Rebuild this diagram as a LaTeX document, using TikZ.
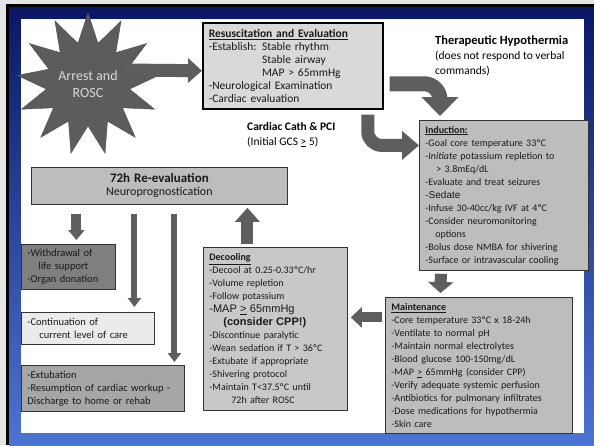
\documentclass[tikz,border=0pt]{standalone}
\usepackage{fontspec}
\setmainfont{Carlito}
\newfontfamily\arialfont{Liberation Sans}
\usetikzlibrary{positioning, arrows.meta, shapes.geometric}

\definecolor{navyblue}{HTML}{0B1765}
\definecolor{slideblue}{HTML}{4C74D2}
\definecolor{arrowgray}{HTML}{5E5E5E}
\definecolor{stargray}{HTML}{5C5C5C}
\definecolor{resgray}{HTML}{D9D9D9}
\definecolor{midgray}{HTML}{BDBDBD}
\definecolor{decoolgray}{HTML}{C8C8C8}
\definecolor{darkboxgray}{HTML}{7F7F7F}
\definecolor{lightboxgray}{HTML}{EBEBEB}
\definecolor{extgray}{HTML}{A6A6A6}

\begin{document}
\begin{tikzpicture}[x=1pt, y=-1pt,
    box/.style={draw=black!80, line width=0.8pt, align=left, anchor=north west,
      inner xsep=6pt, inner ysep=0pt, font=\fontsize{10}{13}\selectfont, text=black!90},
    boxsize/.style n args={3}{minimum width=#1, minimum height=#2, text width=#3},
    note/.style={align=left, anchor=north west, inner sep=0pt, font=\fontsize{11.5}{15}\selectfont},
    fatarrow/.style n args={3}{draw=arrowgray, line width=#1, -{Triangle[width=#2, length=#3]}}]
  % Slide background
  \useasboundingbox (0,0) rectangle (594,445);
  \fill[black!10] (0,0) rectangle (594,445);
  \fill[black] (6,4) rectangle (594,445);
  \shade[top color=navyblue, bottom color=slideblue] (9,7) rectangle (594,445);
  \fill[white] (21,19) rectangle (584,433);

  % Nodes
  \node (Arrest) [star, star points=13, star point ratio=1.7, draw=black!70, fill=stargray,
    minimum size=128pt, inner sep=0pt, text=black!15, align=center,
    font=\fontsize{14}{17}\selectfont] at (88,84) {Arrest and\\ROSC};
  \node (Resus) [box, boxsize={180pt}{86pt}{168pt}, fill=resgray, draw=black, line width=1.5pt,
    font=\fontsize{11.5}{13}\selectfont] at (202,22)
    {\textbf{\underline{Resuscitation and Evaluation}}\\
     -Establish: Stable rhythm\\
     \phantom{-Establish: }Stable airway\\
     \phantom{-Establish: }MAP > 65mmHg\\
     -Neurological Examination\\
     -Cardiac evaluation};
  \node (Hypo) [note] at (435,36)
    {{\fontsize{12.5}{15}\selectfont\bfseries Therapeutic Hypothermia}\\(does not respond to verbal\\commands)};
  \node (Cath) [note] at (247,122)
    {\textbf{Cardiac Cath \& PCI}\\(Initial GCS \underline{>} 5)};
  \node (Induction) [box, boxsize={169pt}{150pt}{157pt}, fill=midgray] at (419,120)
    {\textbf{\underline{Induction:}}\\
     -Goal core temperature 33ºC\\
     -\textit{Initiate} potassium repletion to\\
     \hspace*{11pt}> 3.8mEq/dL\\
     -Evaluate and treat seizures\\
     {\arialfont -Sedate}\\
     -Infuse 30-40cc/kg IVF at 4ºC\\
     -Consider neuromonitoring\\
     \hspace*{10pt}options\\
     -Bolus dose NMBA for shivering\\
     -Surface or intravascular cooling};
  \node (Maintenance) [box, boxsize={187pt}{136pt}{175pt}, fill=midgray] at (385,297)
    {\textbf{\underline{Maintenance}}\\
     -Core temperature 33ºC x 18-24h\\
     -Ventilate to normal pH\\
     -Maintain normal electrolytes\\
     -Blood glucose 100-150mg/dL\\
     -MAP \underline{>} 65mmHg (consider CPP)\\
     -Verify adequate systemic perfusion\\
     -Antibiotics for pulmonary infiltrates\\
     -Dose medications for hypothermia\\
     -Skin care};
  \node (Decooling) [box, boxsize={144pt}{163pt}{132pt}, fill=decoolgray] at (203,247)
    {\textbf{\underline{Decooling}}\\
     -Decool at 0.25-0.33ºC/hr\\
     -Volume repletion\\
     -Follow potassium\\
     {\arialfont\fontsize{11}{13}\selectfont -MAP \underline{>} 65mmHg}\\
     {\arialfont\bfseries\fontsize{11}{13}\selectfont\hspace*{14pt}(consider CPP!)}\\
     -Discontinue paralytic\\
     -Wean sedation if T > 36ºC\\
     -Extubate if appropriate\\
     -Shivering protocol\\
     -Maintain T<37.5ºC until\\
     \hspace*{22pt}72h after ROSC};
  \node (Reeval) [box, boxsize={256pt}{37pt}{244pt}, fill=midgray, align=center,
    font=\fontsize{12}{13}\selectfont] at (31,167)
    {{\bfseries\fontsize{13}{14}\selectfont 72h Re-evaluation}\\Neuroprognostication};
  \node (Withdrawal) [box, boxsize={94pt}{45pt}{82pt}, fill=darkboxgray,
    font=\fontsize{10.5}{13}\selectfont] at (21,244)
    {-Withdrawal of\\\hspace*{11pt}life support\\-Organ donation};
  \node (Continuation) [box, boxsize={133pt}{32pt}{121pt}, fill=lightboxgray,
    font=\fontsize{10.5}{13}\selectfont] at (21,312)
    {-Continuation of\\\hspace*{12pt}current level of care};
  \node (Extubation) [box, boxsize={163pt}{46pt}{151pt}, fill=extgray,
    font=\fontsize{10.5}{13}\selectfont] at (21,365)
    {-Extubation\\-Resumption of cardiac workup -\\Discharge to home or rehab};

  % Arrows
  \draw[fatarrow={13pt}{24pt}{14pt}] ([xshift=37pt,yshift=14pt]Arrest.center) -- ([yshift=-5pt]Resus.west);
  \draw[fatarrow={15pt}{36pt}{19pt}, rounded corners=16pt] ([xshift=6pt,yshift=-18pt]Resus.east) -| ([xshift=21pt,yshift=4pt]Induction.north west);
  \draw[fatarrow={13pt}{28pt}{17pt}, rounded corners=14pt] ([xshift=75pt,yshift=-5pt]Resus.south) |- ([yshift=50pt]Induction.west);
  \draw[fatarrow={12pt}{25pt}{11pt}] ([xshift=-63pt,yshift=-3pt]Induction.south) -- ([xshift=-38.5pt,yshift=4pt]Maintenance.north);
  \draw[fatarrow={10pt}{20pt}{11pt}] ([xshift=-3pt,yshift=48pt]Maintenance.west) -- ([xshift=3pt,yshift=11.5pt]Decooling.east);
  \draw[fatarrow={12pt}{24pt}{14pt}] ([xshift=-28pt,yshift=3pt]Decooling.north) -- ([xshift=88pt,yshift=-3pt]Reeval.south);
  \draw[fatarrow={10pt}{16pt}{10pt}] ([xshift=-83pt,yshift=-9pt]Reeval.south) -- ([xshift=8pt,yshift=4pt]Withdrawal.north);
  \draw[fatarrow={6pt}{13pt}{9pt}] ([xshift=-25pt,yshift=-9pt]Reeval.south) -- ([xshift=46.5pt,yshift=5pt]Continuation.north);
  \draw[fatarrow={6pt}{13pt}{9pt}] ([xshift=15pt,yshift=-9pt]Reeval.south) -- ([xshift=71.5pt,yshift=3pt]Extubation.north);
\end{tikzpicture}
\end{document}
